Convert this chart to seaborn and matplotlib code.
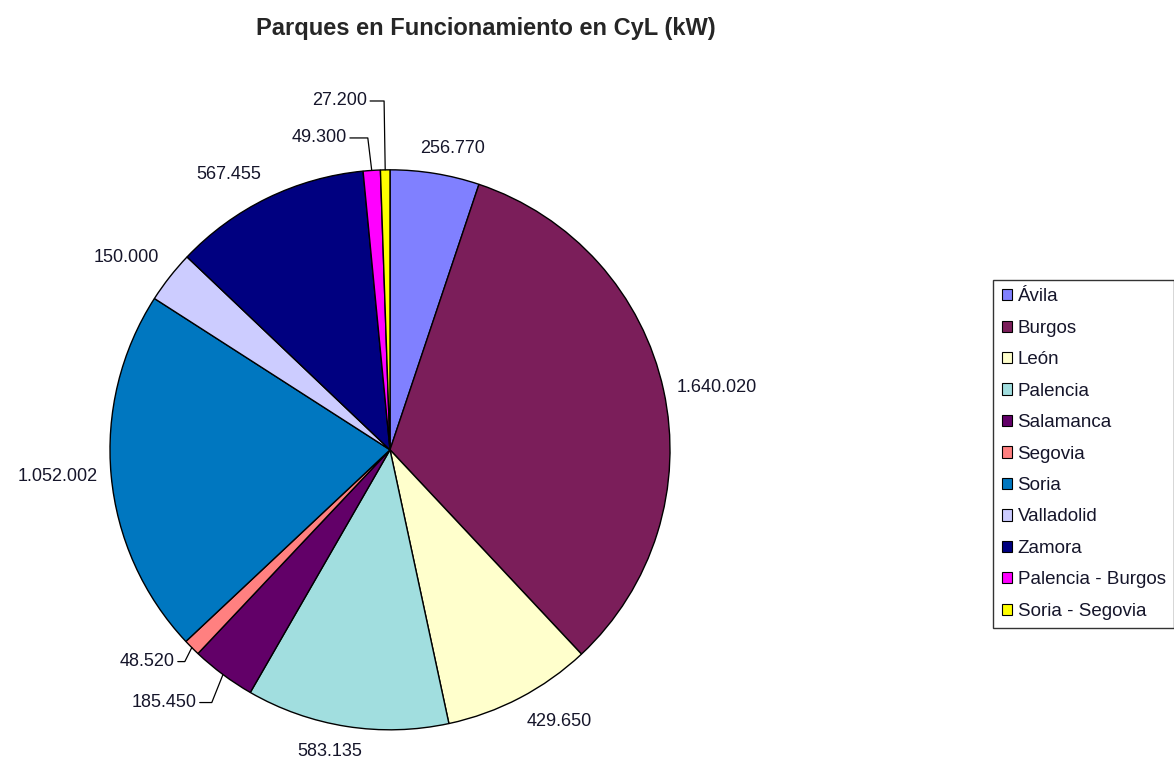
import numpy as np
import seaborn as sns
import matplotlib.pyplot as plt
from matplotlib.patches import Patch

provincias = ['Ávila', 'Burgos', 'León', 'Palencia', 'Salamanca', 'Segovia',
              'Soria', 'Valladolid', 'Zamora', 'Palencia - Burgos', 'Soria - Segovia']
potencia_kw = [256770, 1640020, 429650, 583135, 185450, 48520,
               1052002, 150000, 567455, 49300, 27200]
etiquetas = ['256.770', '1.640.020', '429.650', '583.135', '185.450', '48.520',
             '1.052.002', '150.000', '567.455', '49.300', '27.200']
colores = ['#8080FF', '#7B1E5A', '#FFFFCC', '#A1DEDF', '#620068', '#FF8080',
           '#0077C0', '#CCCCFF', '#000080', '#FF00FF', '#FFFF00']

sns.set_theme(style='white')
plt.rcParams['font.family'] = ['Liberation Sans', 'DejaVu Sans']

fig = plt.figure(figsize=(11.74, 7.65), dpi=100)
ax = fig.add_axes([0.0937, 0.046, 0.477, 0.732])

wedges, _ = ax.pie(potencia_kw, colors=colores, startangle=90, counterclock=False,
                   wedgeprops=dict(edgecolor='black', linewidth=1))
ax.set_xlim(-1, 1)
ax.set_ylim(-1, 1)
ax.set_aspect('auto')
ax.axis('off')

R = 280.0   # radio en pixeles
fs = 13
color_txt = '#15152a'
# etiquetas con linea guia: (codo, final) relativos al borde, en unidades de datos
guias = {
    'Segovia': ((-0.025, -0.05), (-0.05, -0.05)),
    'Salamanca': ((-0.04, -0.10), (-0.083, -0.10)),
    'Palencia - Burgos': ((-0.014, 0.116), (-0.078, 0.116)),
    'Soria - Segovia': ((-0.004, 0.246), (-0.054, 0.246)),
}

for w, nombre, txt in zip(wedges, provincias, etiquetas):
    ang = np.deg2rad((w.theta1 + w.theta2) / 2)
    x, y = np.cos(ang), np.sin(ang)
    if nombre in guias:
        (ex, ey), (fx, fy) = guias[nombre]
        ax.plot([x, x + ex, x + fx], [y, y + ey, y + fy], color='black', lw=0.9,
                clip_on=False)
        ax.text(x + fx - 0.01, y + fy, txt, ha='right', va='center', fontsize=fs,
                color=color_txt)
    else:
        ancho = 10 * len(txt.replace('.', '')) + 5 * txt.count('.')
        alto = 22
        gap = 14
        fy_ = np.clip(0.5 + 1.5 * y, 0, 1) if abs(y) > 0.4 else 0.5
        px = x * (R + gap) + ancho * (np.clip(0.5 + 1.5 * x, 0, 1) - 0.5)
        py = y * (R + gap) + alto * (fy_ - 0.5)
        ax.text(px / R, py / R, txt, ha='center', va='center', fontsize=fs,
                color=color_txt)

fig.text(0.414, 0.963, 'Parques en Funcionamiento en CyL (kW)', ha='center',
         va='center', fontsize=17, fontweight='bold')

handles = [Patch(facecolor=c, edgecolor='black', linewidth=0.8) for c in colores]
leg = fig.legend(handles, provincias, loc='upper left', bbox_to_anchor=(0.846, 0.634),
                 fontsize=13.5, frameon=True, fancybox=False, edgecolor='black',
                 handlelength=0.55, handleheight=0.55, handletextpad=0.3,
                 labelspacing=0.77, borderpad=0.45, borderaxespad=0)
leg.get_frame().set_linewidth(1)
for t in leg.get_texts():
    t.set_color(color_txt)

fig.savefig('out.png', dpi=100, facecolor='white')
